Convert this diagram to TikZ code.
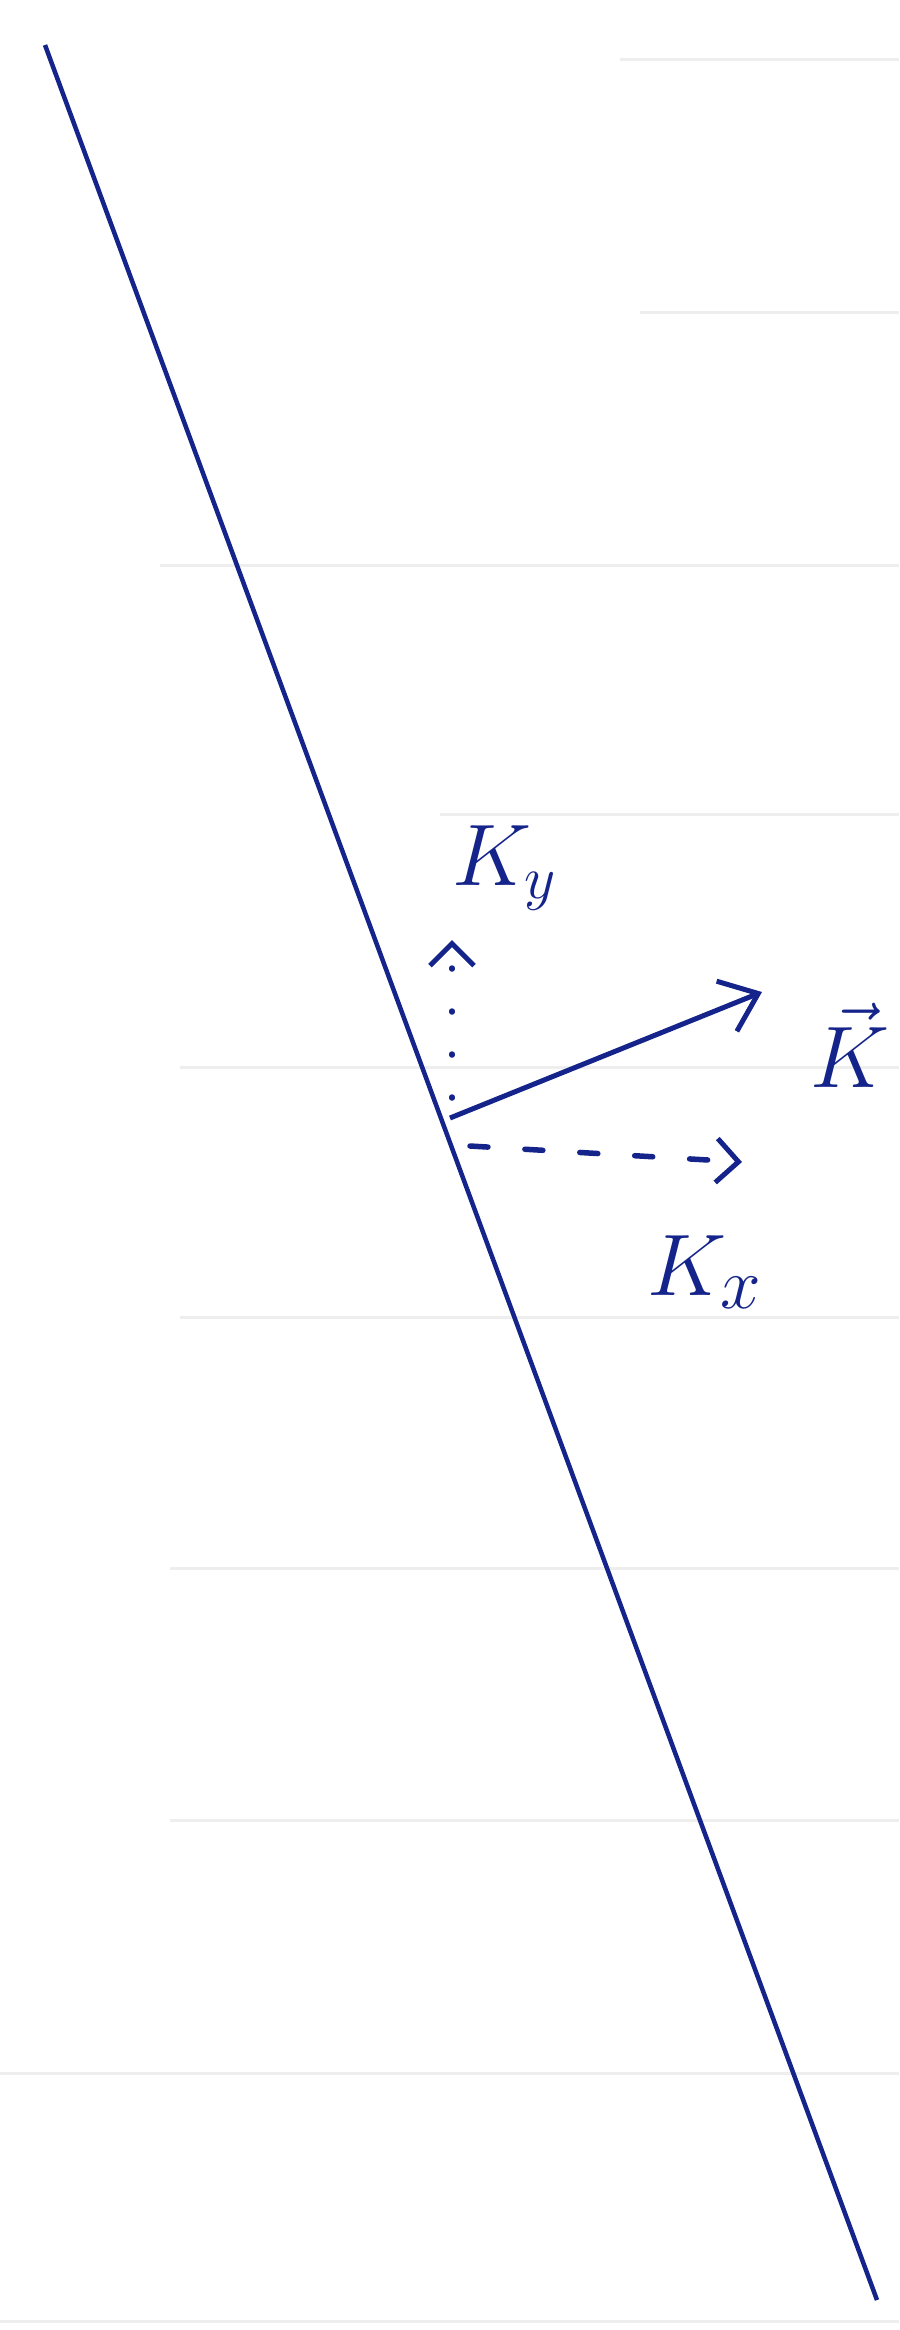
\documentclass[tikz,border=0pt]{standalone}
\usepackage{amsmath,amssymb}
\usepackage{xcolor}
\usepackage{tikz}
\usetikzlibrary{arrows.meta,positioning,calc}
\definecolor{ink}{HTML}{15248A}
\definecolor{ruling}{HTML}{EEEEEE}

\begin{document}
\begin{tikzpicture}[x=0.1mm, y=-0.1mm,
  wall/.style={ink, line width=0.45mm},
  wavevec/.style={ink, line width=0.5mm, -{Straight Barb[length=3.4mm, width=5.4mm, line width=0.5mm]}},
  component/.style={ink, line width=0.55mm, line cap=round, -{Straight Barb[length=2.2mm, width=4.4mm, line width=0.5mm]}},
  klabel/.style={text=ink, inner sep=0pt}]
\useasboundingbox[fill=white] (0,0) rectangle (899,2330);

% --- Ruled paper lines ---
\foreach \y/\xs in {59/620, 312/640, 565/160, 814/440, 1067/180, 1317/180,
                    1568/170, 1820/170, 2073/0, 2321/0} {
  \draw[ruling, line width=0.3mm] (\xs,\y) -- (899,\y);
}

% --- Boundary line ---
\coordinate (top) at (45,45);
\coordinate (bot) at (877,2300);
\draw[wall] (top) -- (bot);

% --- Wave vector and its components ---
\coordinate (o) at (450,1118);
\coordinate (ktip) at (762,992);
\coordinate (kxstart) at (470,1146);
\coordinate (kxtip) at (742,1162);
\coordinate (kystart) at (452,1098);
\coordinate (kytip) at (452,940);

\draw[wavevec] (o) -- (ktip);
\draw[component, dash pattern=on 1.8mm off 3.7mm] (kxstart) -- (kxtip);
\draw[component, dash pattern=on 0.1mm off 4.2mm] (kystart) -- (kytip);

% Labels
\node[klabel, font=\fontsize{27}{30}\selectfont] (ky) at (505,868) {$K_y$};
\node[klabel, font=\fontsize{38}{42}\selectfont] (k) at (850,1045) {$\vec{K}$};
\node[klabel, font=\fontsize{28}{32}\selectfont] (kx) at (705,1272) {$K_x$};
\end{tikzpicture}
\end{document}
